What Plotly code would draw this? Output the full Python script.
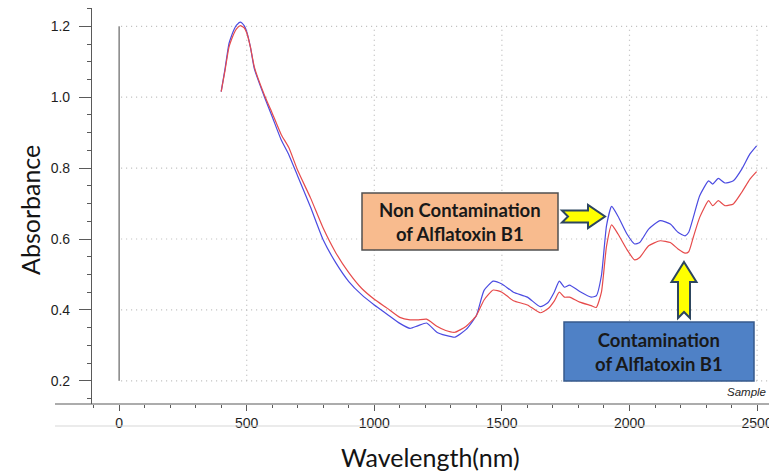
import plotly.graph_objects as go

# ---- data ----
wavelength = [400, 415, 430, 440, 450, 460, 475, 490, 500, 515, 530, 570, 600, 635, 665, 700, 750, 800,
              850, 900, 950, 1000, 1050, 1100, 1140, 1170, 1205, 1245, 1280, 1316, 1360, 1400, 1430,
              1466, 1500, 1545, 1600, 1650, 1680, 1705, 1725, 1745, 1765, 1805, 1850, 1870, 1890, 1910,
              1930, 1955, 1990, 2020, 2040, 2075, 2120, 2160, 2190, 2218, 2232, 2250, 2275, 2310, 2326,
              2348, 2374, 2407, 2440, 2472, 2498]

non_contaminated = [1.016, 1.08, 1.15, 1.172, 1.19, 1.203, 1.212, 1.202, 1.185, 1.14, 1.08, 1.0, 0.945,
                    0.88, 0.838, 0.777, 0.69, 0.597, 0.532, 0.48, 0.443, 0.414, 0.388, 0.362, 0.348,
                    0.355, 0.363, 0.337, 0.328, 0.323, 0.345, 0.384, 0.455, 0.481, 0.473, 0.45, 0.436,
                    0.409, 0.42, 0.45, 0.481, 0.464, 0.47, 0.452, 0.436, 0.44, 0.497, 0.638, 0.692,
                    0.664, 0.614, 0.586, 0.59, 0.628, 0.652, 0.642, 0.619, 0.609, 0.619, 0.661, 0.722,
                    0.764, 0.755, 0.771, 0.758, 0.764, 0.797, 0.84, 0.863]

contaminated = [1.016, 1.075, 1.14, 1.162, 1.18, 1.193, 1.202, 1.196, 1.182, 1.14, 1.085, 1.005, 0.955,
                0.895, 0.858, 0.793, 0.716, 0.63, 0.56, 0.505, 0.461, 0.43, 0.405, 0.379, 0.372, 0.372,
                0.374, 0.354, 0.342, 0.337, 0.354, 0.384, 0.428, 0.456, 0.45, 0.426, 0.414, 0.392,
                0.403, 0.425, 0.45, 0.436, 0.436, 0.422, 0.412, 0.407, 0.45, 0.58, 0.64, 0.614, 0.57,
                0.541, 0.548, 0.581, 0.595, 0.59, 0.572, 0.56, 0.564, 0.605, 0.661, 0.708, 0.694,
                0.708, 0.694, 0.699, 0.732, 0.769, 0.79]

y_ticks = [0.2, 0.4, 0.6, 0.8, 1.0, 1.2]
y_tick_labels = ["0.2", "0.4", "0.6", "0.8", "1.0", "1.2"]
x_ticks = [0, 500, 1000, 1500, 2000, 2500]
x_tick_labels = ["0", "500", "1000", "1500", "2000", "2500"]

label_non = "Non Contamination<br>of Alflatoxin B1"
label_con = "Contamination<br>of Alflatoxin B1"

# ---- layout geometry ----
W, H = 769, 474
ML, MR, MT, MB = 92, 0, 8, 70
PW, PH = W - ML - MR, H - MT - MB


def px(x):
    return (x - ML) / PW


def py(y):
    return (H - MB - y) / PH


fig = go.Figure()
fig.add_trace(go.Scatter(x=wavelength, y=non_contaminated, mode="lines",
                         line=dict(color="rgb(75,75,225)", width=1.2, shape="spline", smoothing=0.5),
                         name="Non contamination"))
fig.add_trace(go.Scatter(x=wavelength, y=contaminated, mode="lines",
                         line=dict(color="rgb(230,75,75)", width=1.2, shape="spline", smoothing=0.5),
                         name="Contamination"))

shapes = []
grid_col = "rgb(185,185,185)"
grid_dash = "1px,4px"
for v in y_ticks:
    shapes.append(dict(type="line", xref="x", yref="y", x0=8, x1=2560, y0=v, y1=v,
                       line=dict(color=grid_col, width=1.2, dash=grid_dash), layer="below"))
for v in x_ticks[1:]:
    shapes.append(dict(type="line", xref="x", yref="y", x0=v, x1=v, y0=y_ticks[0], y1=y_ticks[-1],
                       line=dict(color=grid_col, width=1.2, dash=grid_dash), layer="below"))
# vertical line at x = 0
shapes.append(dict(type="line", xref="x", yref="y", x0=0, x1=0, y0=y_ticks[0], y1=y_ticks[-1],
                   line=dict(color="rgb(70,70,70)", width=1)))
# extended x-axis line and light line under tick labels
shapes.append(dict(type="line", xref="paper", yref="paper", x0=px(55), x1=1, y0=0, y1=0,
                   line=dict(color="rgb(90,90,90)", width=1.2)))
shapes.append(dict(type="line", xref="paper", yref="paper", x0=px(55), x1=1, y0=py(426), y1=py(426),
                   line=dict(color="rgb(215,215,215)", width=1)))

# label boxes
shapes.append(dict(type="rect", xref="paper", yref="paper", x0=px(362), x1=px(558), y0=py(250), y1=py(193),
                   fillcolor="rgb(248,187,142)", line=dict(color="rgb(80,80,80)", width=1.5)))
shapes.append(dict(type="rect", xref="paper", yref="paper", x0=px(564), x1=px(754), y0=py(381), y1=py(322),
                   fillcolor="rgb(79,129,198)", line=dict(color="rgb(55,90,140)", width=1.5)))


def path(points):
    return "M " + " L ".join(f"{px(a):.5f},{py(b):.5f}" for a, b in points) + " Z"


c = 216.5
right_arrow = [(562, c - 6), (588, c - 6), (588, c - 11.5), (605, c), (588, c + 11.5), (588, c + 6),
               (562, c + 6), (568, c)]
cx = 684
up_arrow = [(cx, 262), (cx + 12.5, 282), (cx + 6, 282), (cx + 6, 318), (cx, 312), (cx - 6, 318),
            (cx - 6, 282), (cx - 12.5, 282)]
for pts in (right_arrow, up_arrow):
    shapes.append(dict(type="path", xref="paper", yref="paper", path=path(pts),
                       fillcolor="rgb(255,255,0)", line=dict(color="rgb(45,70,95)", width=2)))

box_font = dict(family="Lato, Open Sans, sans-serif", size=18.5, color="rgb(25,25,25)", weight="bold")
title_font = dict(family="Lato, Open Sans, sans-serif", size=25, color="rgb(20,20,20)")
annotations = [
    dict(text=label_non, xref="paper", yref="paper", x=px(460), y=py(221.5), showarrow=False,
         xanchor="center", yanchor="middle", font=box_font, align="center"),
    dict(text=label_con, xref="paper", yref="paper", x=px(659), y=py(351.5), showarrow=False,
         xanchor="center", yanchor="middle", font=box_font, align="center"),
    dict(text="<i>Sample</i>", xref="paper", yref="paper", x=px(768), y=py(392), xanchor="right",
         yanchor="middle", showarrow=False,
         font=dict(family="Liberation Sans, Arial, sans-serif", size=11.5, color="rgb(30,30,30)")),
    dict(text="Absorbance", xref="paper", yref="paper", x=px(30), y=py(210), textangle=-90,
         xanchor="center", yanchor="middle", showarrow=False, font=title_font),
    dict(text="Wavelength(nm)", xref="paper", yref="paper", x=px(430), y=py(457),
         xanchor="center", yanchor="middle", showarrow=False, font=title_font),
]

tick_font = dict(family="Liberation Sans Narrow, Liberation Sans, Arial, sans-serif", size=14, color="rgb(30,30,30)")
x_lo = (ML - 119.1) / 0.2552
x_hi = (W - 119.1) / 0.2552
y_lo = 1.2 - (H - MB - 26.3) / 354.5
y_hi = 1.2 + (26.3 - MT) / 354.5

fig.update_layout(
    width=W, height=H, margin=dict(l=ML, r=MR, t=MT, b=MB, autoexpand=False),
    paper_bgcolor="white", plot_bgcolor="white", showlegend=False,
    shapes=shapes, annotations=annotations,
    xaxis=dict(range=[x_lo, x_hi], tickvals=x_ticks, ticktext=x_tick_labels, showgrid=False,
               zeroline=False, showline=False, ticks="outside", ticklen=6, tickcolor="rgb(90,90,90)",
               tickfont=tick_font, ticklabelstandoff=0, ticklabeloverflow="allow", automargin=False,
               minor=dict(dtick=100, tick0=0, ticks="outside", ticklen=3, tickcolor="rgb(90,90,90)",
                          showgrid=False)),
    yaxis=dict(range=[y_lo, y_hi], tickvals=y_ticks, ticktext=y_tick_labels, showgrid=False,
               zeroline=False, showline=True, linecolor="rgb(90,90,90)", linewidth=1.2,
               ticks="outside", ticklen=12, tickcolor="rgb(90,90,90)", tickfont=tick_font,
               ticklabelstandoff=6, automargin=False,
               minor=dict(dtick=0.05, tick0=0, ticks="outside", ticklen=4, tickcolor="rgb(90,90,90)",
                          showgrid=False)),
)

fig.write_html("out.html", config={"displayModeBar": False},
               post_script="document.body.style.margin='0';document.body.style.overflow='hidden';")
